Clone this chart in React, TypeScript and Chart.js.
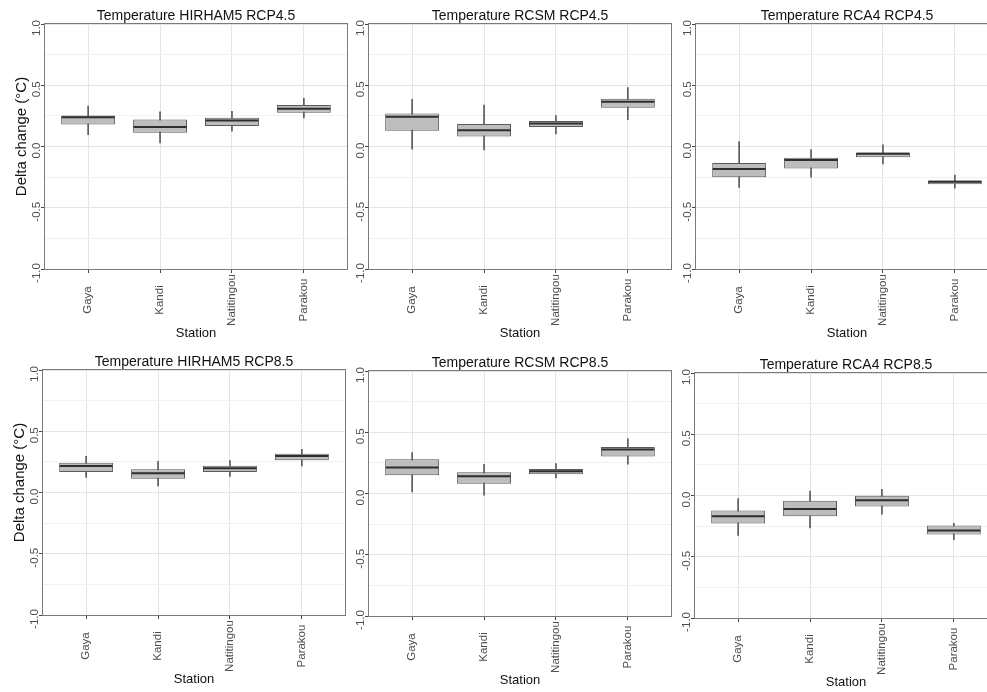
import React, { useEffect, useRef } from "react";
import { Chart, registerables } from "chart.js";

Chart.register(...registerables);

// ---------- data ----------
const STATIONS = ["Gaya", "Kandi", "Natitingou", "Parakou"];
const Y_TICKS = [-1, -0.5, 0, 0.5, 1];
const Y_TICK_LABELS = ["-1.0", "-0.5", "0.0", "0.5", "1.0"];
const Y_MINOR_TICKS = [-0.75, -0.25, 0.25, 0.75];
const X_AXIS_TITLE = "Station";
const Y_AXIS_TITLE = "Delta change (°C)";

const PANEL_TITLES = [
  "Temperature HIRHAM5 RCP4.5",
  "Temperature RCSM RCP4.5",
  "Temperature RCA4 RCP4.5",
  "Temperature HIRHAM5 RCP8.5",
  "Temperature RCSM RCP8.5",
  "Temperature RCA4 RCP8.5",
];

// HIRHAM5 RCP4.5
const HIRHAM5_45_MIN = [0.096, 0.03, 0.126, 0.234];
const HIRHAM5_45_Q1 = [0.179, 0.113, 0.168, 0.275];
const HIRHAM5_45_MED = [0.238, 0.159, 0.212, 0.308];
const HIRHAM5_45_Q3 = [0.253, 0.22, 0.234, 0.338];
const HIRHAM5_45_MAX = [0.33, 0.283, 0.288, 0.393];

// RCSM RCP4.5
const RCSM_45_MIN = [-0.022, -0.027, 0.102, 0.22];
const RCSM_45_Q1 = [0.129, 0.082, 0.159, 0.316];
const RCSM_45_MED = [0.242, 0.132, 0.187, 0.365];
const RCSM_45_Q3 = [0.269, 0.184, 0.209, 0.39];
const RCSM_45_MAX = [0.385, 0.338, 0.253, 0.481];

// RCA4 RCP4.5
const RCA4_45_MIN = [-0.335, -0.25, -0.143, -0.341];
const RCA4_45_Q1 = [-0.25, -0.179, -0.088, -0.308];
const RCA4_45_MED = [-0.184, -0.11, -0.06, -0.288];
const RCA4_45_Q3 = [-0.135, -0.091, -0.049, -0.277];
const RCA4_45_MAX = [0.041, -0.025, 0.014, -0.234];

// HIRHAM5 RCP8.5
const HIRHAM5_85_MIN = [0.124, 0.053, 0.132, 0.216];
const HIRHAM5_85_Q1 = [0.168, 0.113, 0.168, 0.263];
const HIRHAM5_85_MED = [0.216, 0.158, 0.197, 0.297];
const HIRHAM5_85_Q3 = [0.242, 0.189, 0.218, 0.316];
const HIRHAM5_85_MAX = [0.295, 0.255, 0.261, 0.353];

// RCSM RCP8.5
const RCSM_85_MIN = [0.013, -0.013, 0.128, 0.239];
const RCSM_85_Q1 = [0.149, 0.08, 0.157, 0.303];
const RCSM_85_MED = [0.213, 0.141, 0.181, 0.359];
const RCSM_85_Q3 = [0.279, 0.173, 0.199, 0.38];
const RCSM_85_MAX = [0.335, 0.239, 0.245, 0.447];

// RCA4 RCP8.5
const RCA4_85_MIN = [-0.325, -0.264, -0.153, -0.361];
const RCA4_85_Q1 = [-0.228, -0.169, -0.089, -0.319];
const RCA4_85_MED = [-0.169, -0.111, -0.039, -0.286];
const RCA4_85_Q3 = [-0.122, -0.042, -0.003, -0.244];
const RCA4_85_MAX = [-0.025, 0.036, 0.05, -0.228];

// ---------- layout / style ----------
const FONT = '"Liberation Sans", Arial, Helvetica, sans-serif';
const BOX_WIDTH = 0.75;
const CANVAS_W = 351;
const CANVAS_H = 346;
const Y_AXIS_W = 45;
const X_AXIS_H = 77;

type Panel = {
  title: string;
  min: number[];
  q1: number[];
  med: number[];
  q3: number[];
  max: number[];
  left: number;
  top: number;
  yTitle: boolean;
};

const PANELS: Panel[] = [
  { title: PANEL_TITLES[0], min: HIRHAM5_45_MIN, q1: HIRHAM5_45_Q1, med: HIRHAM5_45_MED, q3: HIRHAM5_45_Q3, max: HIRHAM5_45_MAX, left: 0, top: 0, yTitle: true },
  { title: PANEL_TITLES[1], min: RCSM_45_MIN, q1: RCSM_45_Q1, med: RCSM_45_MED, q3: RCSM_45_Q3, max: RCSM_45_MAX, left: 324, top: 0, yTitle: false },
  { title: PANEL_TITLES[2], min: RCA4_45_MIN, q1: RCA4_45_Q1, med: RCA4_45_MED, q3: RCA4_45_Q3, max: RCA4_45_MAX, left: 651, top: 0, yTitle: false },
  { title: PANEL_TITLES[3], min: HIRHAM5_85_MIN, q1: HIRHAM5_85_Q1, med: HIRHAM5_85_MED, q3: HIRHAM5_85_Q3, max: HIRHAM5_85_MAX, left: -2, top: 346, yTitle: true },
  { title: PANEL_TITLES[4], min: RCSM_85_MIN, q1: RCSM_85_Q1, med: RCSM_85_MED, q3: RCSM_85_Q3, max: RCSM_85_MAX, left: 324, top: 347, yTitle: false },
  { title: PANEL_TITLES[5], min: RCA4_85_MIN, q1: RCA4_85_Q1, med: RCA4_85_MED, q3: RCA4_85_Q3, max: RCA4_85_MAX, left: 650, top: 349, yTitle: false },
];

const isMajor = (v: number) => Y_TICKS.some((t) => Math.abs(t - v) < 1e-9);

const panelDecor = {
  id: "panelDecor",
  afterDatasetsDraw(chart: any) {
    const { ctx, chartArea: a } = chart;
    ctx.save();
    ctx.strokeStyle = "#7a7a7a";
    ctx.lineWidth = 1;
    ctx.strokeRect(
      Math.round(a.left) - 0.5,
      Math.round(a.top) - 0.5,
      Math.round(a.right - a.left) + 1,
      Math.round(a.bottom - a.top) + 1
    );
    ctx.restore();
  },
  afterDraw(chart: any, _args: any, opts: any) {
    const { ctx, chartArea: a, scales } = chart;
    const x = scales.x;
    const y = scales.y;
    const cx = (a.left + a.right) / 2;
    ctx.save();
    ctx.textAlign = "center";
    ctx.textBaseline = "middle";

    // title
    ctx.fillStyle = "#111111";
    ctx.font = `14px ${FONT}`;
    ctx.fillText(opts.title, cx, a.top - 8);

    // y tick labels (rotated)
    ctx.fillStyle = "#4d4d4d";
    ctx.font = `11.5px ${FONT}`;
    Y_TICKS.forEach((v, i) => {
      ctx.save();
      ctx.translate(a.left - 8, y.getPixelForValue(v) + 4);
      ctx.rotate(-Math.PI / 2);
      ctx.fillText(Y_TICK_LABELS[i], 0, 0);
      ctx.restore();
    });

    // x tick labels (rotated)
    STATIONS.forEach((s, i) => {
      ctx.save();
      ctx.translate(x.getPixelForValue(i + 1), a.bottom + 31);
      ctx.rotate(-Math.PI / 2);
      ctx.fillText(s, 0, 0);
      ctx.restore();
    });

    // x axis title
    ctx.fillStyle = "#111111";
    ctx.font = `13px ${FONT}`;
    ctx.fillText(X_AXIS_TITLE, cx, a.bottom + 64);

    // y axis title
    if (opts.yTitle) {
      ctx.save();
      ctx.font = `15px ${FONT}`;
      ctx.translate(a.left - 23, (a.top + a.bottom) / 2 - 10);
      ctx.rotate(-Math.PI / 2);
      ctx.fillText(Y_AXIS_TITLE, 0, 0);
      ctx.restore();
    }
    ctx.restore();
  },
};

function BoxPanel({ panel }: { panel: Panel }) {
  const ref = useRef<HTMLCanvasElement | null>(null);

  useEffect(() => {
    if (!ref.current) return;
    const xs = STATIONS.map((_, i) => i + 1);
    const chart = new Chart(ref.current, {
      type: "bar",
      data: {
        datasets: [
          {
            type: "scatter",
            label: "median",
            order: 0,
            data: xs.map((x, i) => ({ x, y: panel.med[i] })),
            showLine: false,
            pointStyle: "line",
            pointRadius: (c: any) => {
              const s = c.chart.scales.x;
              return Math.abs(s.getPixelForValue(1 + BOX_WIDTH / 2) - s.getPixelForValue(1)) - 0.5;
            },
            pointBorderColor: "#2e2e2e",
            pointBorderWidth: 2,
            pointBackgroundColor: "#2e2e2e",
          } as any,
          {
            type: "bar",
            label: "box",
            order: 1,
            data: xs.map((x, i) => ({ x, y: [panel.q1[i], panel.q3[i]] })),
            backgroundColor: "#bdbdbd",
            borderColor: "#5a5a5a",
            borderWidth: 1,
            borderSkipped: false,
            grouped: false,
            barPercentage: BOX_WIDTH,
            categoryPercentage: 1,
          } as any,
          {
            type: "bar",
            label: "whisker",
            order: 2,
            data: xs.map((x, i) => ({ x, y: [panel.min[i], panel.max[i]] })),
            backgroundColor: "#5a5a5a",
            borderWidth: 0,
            grouped: false,
            barThickness: 1,
          } as any,
        ],
      },
      options: {
        animation: false,
        responsive: false,
        devicePixelRatio: 1,
        events: [],
        layout: { padding: { left: 0, right: CANVAS_W - Y_AXIS_W - 302, top: 24, bottom: 0 } },
        plugins: {
          legend: { display: false },
          tooltip: { enabled: false },
          title: { display: false },
          panelDecor: { title: panel.title, yTitle: panel.yTitle },
        } as any,
        scales: {
          x: {
            type: "linear",
            offset: false,
            min: 0.4,
            max: STATIONS.length + 0.6,
            afterBuildTicks: (s: any) => {
              s.ticks = xs.map((v) => ({ value: v }));
            },
            afterFit: (s: any) => {
              s.height = X_AXIS_H;
            },
            ticks: { display: false },
            border: { display: false },
            grid: {
              offset: false,
              color: "#e4e4e4",
              lineWidth: 1,
              drawTicks: true,
              tickLength: 4,
              tickColor: "#444444",
              tickWidth: 1,
            },
          },
          y: {
            type: "linear",
            min: -1,
            max: 1,
            afterBuildTicks: (s: any) => {
              s.ticks = [...Y_TICKS, ...Y_MINOR_TICKS]
                .sort((p, q) => p - q)
                .map((v) => ({ value: v }));
            },
            afterFit: (s: any) => {
              s.width = Y_AXIS_W;
            },
            ticks: { display: false },
            border: { display: false },
            grid: {
              color: (c: any) => (c.tick && isMajor(c.tick.value) ? "#e4e4e4" : "#f1f1f1"),
              lineWidth: 1,
              drawTicks: true,
              tickLength: 4,
              tickColor: (c: any) => (c.tick && isMajor(c.tick.value) ? "#444444" : "rgba(0,0,0,0)"),
              tickWidth: 1,
            },
          },
        },
      } as any,
      plugins: [panelDecor as any],
    });
    return () => chart.destroy();
  }, [panel]);

  return (
    <canvas
      ref={ref}
      width={CANVAS_W}
      height={CANVAS_H}
      style={{ position: "absolute", left: panel.left, top: panel.top, width: CANVAS_W, height: CANVAS_H }}
    />
  );
}

export default function App() {
  return (
    <div
      style={{
        position: "absolute",
        left: 0,
        top: 0,
        width: 987,
        height: 692,
        overflow: "hidden",
        background: "#ffffff",
      }}
    >
      {PANELS.map((p, i) => (
        <BoxPanel key={i} panel={p} />
      ))}
    </div>
  );
}
